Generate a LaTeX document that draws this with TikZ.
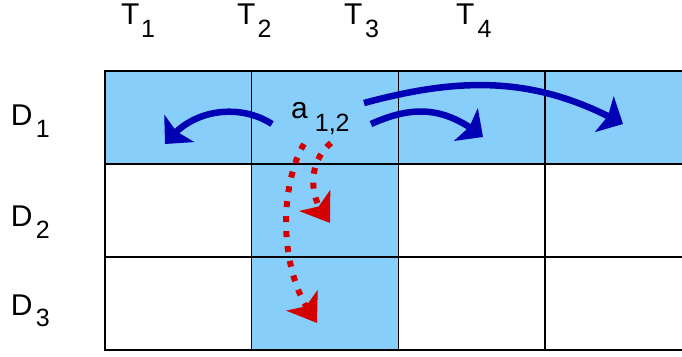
\documentclass[tikz,border=0pt]{standalone}
\usepackage{fontspec}
\setmainfont{Liberation Sans}
\usetikzlibrary{arrows.meta,bending}
\definecolor{cellblue}{RGB}{135,206,250}
\definecolor{arrblue}{RGB}{0,0,180}
\definecolor{arrred}{RGB}{212,0,0}
\newcommand{\subfs}{\fontsize{25}{25}\selectfont}
\newcommand{\mainfs}{\fontsize{30}{30}\selectfont}
\begin{document}
\begin{tikzpicture}[x=1pt,y=-1pt,
  cell/.style={draw=black, line width=1.4pt, minimum width=146.7pt, minimum height=93pt, inner sep=0pt, outer sep=0pt, anchor=north west},
  hot/.style={cell, fill=cellblue},
  lbl/.style={inner sep=0pt, anchor=base west, font=\mainfs},
  barrow/.style={draw=arrblue, line width=6.5pt, -{Stealth[length=21pt,width=40pt,inset=4pt]}},
  rarrow/.style={draw=arrred, line width=6pt, dash pattern=on 6pt off 9pt, -{Stealth[length=27pt,width=37pt,inset=7pt]}}
]
\useasboundingbox (0,0) rectangle (682,356);
\clip (0,0) rectangle (682,356);
% grid
\node[hot]  (c11) at (105,71) {};
\node[hot]  (c21) at (251.7,71) {};
\node[hot]  (c31) at (398.4,71) {};
\node[hot]  (c41) at (545.1,71) {};
\node[cell] (c12) at (105,164) {};
\node[hot]  (c22) at (251.7,164) {};
\node[cell] (c32) at (398.4,164) {};
\node[cell] (c42) at (545.1,164) {};
\node[cell] (c13) at (105,257) {};
\node[hot]  (c23) at (251.7,257) {};
\node[cell] (c33) at (398.4,257) {};
\node[cell] (c43) at (545.1,257) {};
% arrow end points
\coordinate (bls) at (272,124);
\coordinate (ble) at (165,144);
\coordinate (bss) at (371,124);
\coordinate (bse) at (483,137);
\coordinate (bgs) at (364,103);
\coordinate (bge) at (623,124);
\coordinate (rss) at (331,143);
\coordinate (rse) at (330,223);
\coordinate (rgs) at (304,144);
\coordinate (rge) at (317,323);
% blue arrows
\draw[barrow] (bls) .. controls (245,106) and (195,104) .. (ble);
\draw[barrow] (bss) .. controls (412,105.7) and (444,105.5) .. (bse);
\draw[barrow] (bgs) .. controls (460.6,77) and (535.5,75.5) .. (bge);
% red arrows
\draw[rarrow] (rss) .. controls (310,160) and (305,195) .. (rse);
\draw[rarrow] (rgs) .. controls (282,180) and (274,268) .. (rge);
% labels
\node[lbl] (t1) at (121,24) {T\hspace{1.5pt}\raisebox{-13pt}{\subfs 1}};
\node[lbl] (t2) at (237,24) {T\hspace{2pt}\raisebox{-13pt}{\subfs 2}};
\node[lbl] (t3) at (344,24) {T\hspace{2.5pt}\raisebox{-13pt}{\subfs 3}};
\node[lbl] (t4) at (456,24) {T\hspace{3pt}\raisebox{-13pt}{\subfs 4}};
\node[lbl] (d1) at (10.6,125) {D\hspace{3.5pt}\raisebox{-12pt}{\subfs 1}};
\node[lbl] (d2) at (10.6,226) {D\hspace{3.5pt}\raisebox{-12pt}{\subfs 2}};
\node[lbl] (d3) at (10.6,315) {D\hspace{3.5pt}\raisebox{-11pt}{\subfs 3}};
\node[lbl] (a12) at (291,118) {a\hspace{7pt}\raisebox{-13pt}{\subfs 1,2}};
\end{tikzpicture}
\end{document}
